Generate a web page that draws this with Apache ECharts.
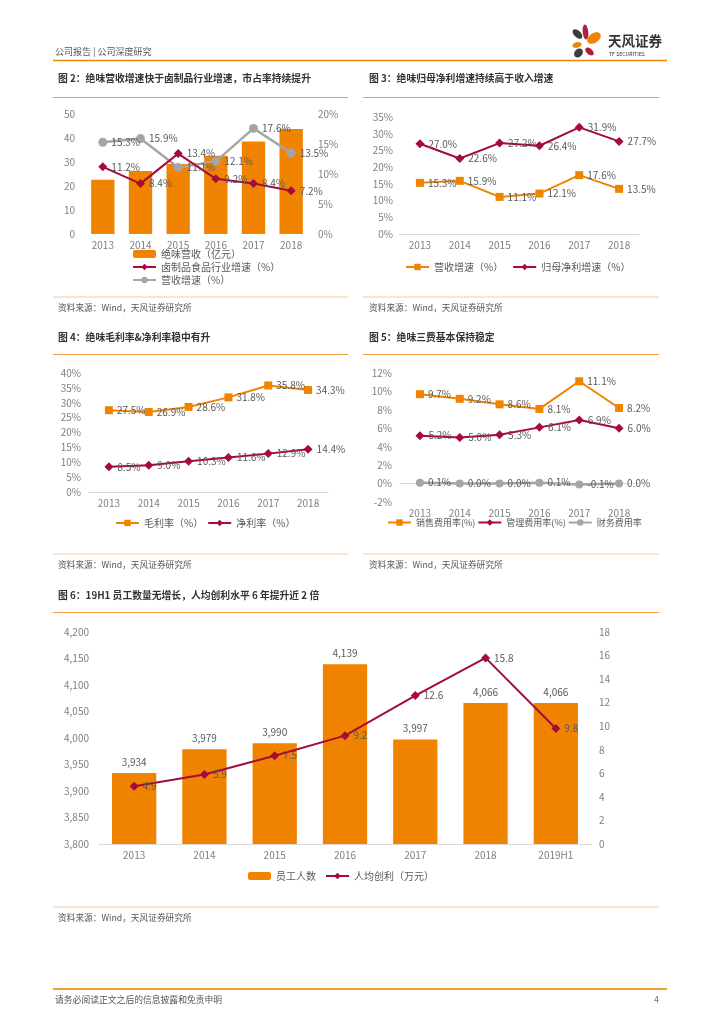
<!DOCTYPE html>
<html><head><meta charset="utf-8">
<script src="https://cdn.jsdelivr.net/npm/echarts@6/dist/echarts.min.js"></script>
<style>html,body{margin:0;padding:0;background:#fff}#c{width:724px;height:1024px}</style>
</head><body><div id="c"></div>
<script>
// ---- data ----
const years = ['2013','2014','2015','2016','2017','2018'];
const years6 = ['2013','2014','2015','2016','2017','2018','2019H1'];
// Fig 2
const revenue = [22.6, 26.3, 29.2, 32.6, 38.5, 43.7];
const industryGrowth = [11.2, 8.4, 13.4, 9.2, 8.4, 7.2];
const revenueGrowth = [15.3, 15.9, 11.1, 12.1, 17.6, 13.5];
// Fig 3
const revGrowth3 = [15.3, 15.9, 11.1, 12.1, 17.6, 13.5];
const netProfitGrowth = [27.0, 22.6, 27.2, 26.4, 31.9, 27.7];
// Fig 4
const grossMargin = [27.5, 26.9, 28.6, 31.8, 35.8, 34.3];
const netMargin = [8.5, 9.0, 10.3, 11.6, 12.9, 14.4];
// Fig 5
const sellingRate = [9.7, 9.2, 8.6, 8.1, 11.1, 8.2];
const adminRate = [5.2, 5.0, 5.3, 6.1, 6.9, 6.0];
const financeRate = [0.1, 0.0, 0.0, 0.1, -0.1, 0.0];
// Fig 6
const staff = [3934, 3979, 3990, 4139, 3997, 4066, 4066];
const profitPerStaff = [4.9, 5.9, 7.5, 9.2, 12.6, 15.8, 9.8];

const ORANGE = '#F08300', RED = '#A50B3B', GRAY = '#A5A5A5';
const FONT = '"Noto Sans CJK SC", "Noto Sans", sans-serif';
const AX = '#7F7F7F', LBL = '#595959';
const pct = v => v + '%';
const pctLabel = p => Number(p.value).toFixed(1) + '%';
const comma = v => String(v).replace(/\B(?=(\d{3})+(?!\d))/g, ',');

function xAx(gi, data, showLine) {
  return { type: 'category', gridIndex: gi, data: data, boundaryGap: true,
    axisLine: { show: showLine, lineStyle: { color: '#D9D9D9', width: 1.2 } },
    axisTick: { show: false },
    axisLabel: { color: AX, fontSize: 10, margin: 6, fontFamily: FONT } };
}
function yAx(gi, min, max, interval, fmt, pos, margin) {
  return { type: 'value', gridIndex: gi, min: min, max: max, interval: interval, position: pos || 'left',
    axisLine: { show: false }, axisTick: { show: false }, splitLine: { show: false },
    axisLabel: { color: AX, fontSize: 10, margin: margin, formatter: fmt, fontFamily: FONT } };
}
function lineS(name, xi, yi, data, color, symbol, size, width, fmt) {
  return { type: 'line', name: name, xAxisIndex: xi, yAxisIndex: yi, data: data,
    symbol: symbol, symbolSize: size,
    lineStyle: { color: color, width: width }, itemStyle: { color: color },
    label: { show: true, position: 'right', distance: 4, color: LBL, fontSize: 10, fontFamily: FONT, formatter: fmt || pctLabel },
    z: 3 };
}
const legendNames = { 'f3营收': '营收增速（%）' };
function legend(left, top, data, gap, orient, fs) {
  return { left: left, top: top, orient: orient || 'horizontal', data: data, itemGap: gap,
    itemWidth: 23, itemHeight: 8, padding: 0,
    textStyle: { color: LBL, fontSize: fs || 10, fontFamily: FONT },
    formatter: n => legendNames[n] || n };
}

// ---- decoration ----
const g = [];
function hl(x1, x2, y, color, w) { g.push({ type: 'line', silent: true, shape: { x1: x1, y1: y, x2: x2, y2: y }, style: { stroke: color, lineWidth: w } }); }
function tx(x, y, text, size, color, weight) { g.push({ type: 'text', silent: true, x: x, y: y, style: { text: text, fontSize: size, fill: color, fontWeight: weight || 'normal', fontFamily: FONT, verticalAlign: 'middle' } }); }
const TL = '#F39A45', SL = '#F8C9A2';
hl(53, 667, 60.5, ORANGE, 1.5);
tx(55, 51.5, '公司报告 | 公司深度研究', 9, '#555');
tx(608, 41, '天风证券', 13.5, '#333', 'bold');
tx(609, 54.5, 'TF SECURITIES', 5.2, '#333');
const petals = [
  { cx: 577.5, cy: 34, rx: 6, ry: 3.3, r: -0.75, c: '#3C3C3C' },
  { cx: 585.5, cy: 32, rx: 2.8, ry: 7.5, r: 0.1, c: '#B01E3C' },
  { cx: 594, cy: 38, rx: 7.5, ry: 4.8, r: 0.6, c: ORANGE },
  { cx: 577, cy: 45, rx: 4.6, ry: 2.8, r: 0.2, c: ORANGE },
  { cx: 589.5, cy: 51.5, rx: 5, ry: 3, r: -0.7, c: '#B01E3C' },
  { cx: 578.5, cy: 53, rx: 5, ry: 3.8, r: 0.8, c: '#3C3C3C' }
];
petals.forEach(p => g.push({ type: 'ellipse', silent: true, x: p.cx, y: p.cy, rotation: p.r, shape: { cx: 0, cy: 0, rx: p.rx, ry: p.ry }, style: { fill: p.c } }));

// panel titles, lines, sources
hl(53, 348, 97.5, TL, 1.2); hl(53, 348, 297, SL, 1.2);
hl(363, 659, 97.5, TL, 1.2); hl(363, 659, 297, SL, 1.2);
hl(53, 348, 354.5, TL, 1.2); hl(53, 348, 554, SL, 1.2);
hl(363, 659, 354.5, TL, 1.2); hl(363, 659, 554, SL, 1.2);
hl(53, 659, 612.5, TL, 1.2); hl(53, 659, 907, SL, 1.2);
hl(53, 667, 989, '#F0A030', 2);
tx(58, 78, '图 2：绝味营收增速快于卤制品行业增速，市占率持续提升', 9.8, '#333', 'bold');
tx(369, 78, '图 3：绝味归母净利增速持续高于收入增速', 9.8, '#333', 'bold');
tx(58, 337, '图 4：绝味毛利率&净利率稳中有升', 9.8, '#333', 'bold');
tx(369, 337, '图 5：绝味三费基本保持稳定', 9.8, '#333', 'bold');
tx(58, 595, '图 6：19H1 员工数量无增长，人均创利水平 6 年提升近 2 倍', 9.8, '#333', 'bold');
const SRC = '资料来源：Wind，天风证券研究所';
tx(58, 308, SRC, 8.7, '#555'); tx(369, 308, SRC, 8.7, '#555');
tx(58, 565, SRC, 8.7, '#555'); tx(369, 565, SRC, 8.7, '#555');
tx(58, 918, SRC, 8.7, '#555');
tx(55, 1000, '请务必阅读正文之后的信息披露和免责申明', 8.8, '#555');
tx(654, 1000, '4', 9, '#777');

const option = {
  backgroundColor: '#fff',
  animation: false,
  textStyle: { fontFamily: FONT },
  graphic: g,
  grid: [
    { left: 84, top: 114, width: 226, height: 120 },
    { left: 400, top: 117, width: 239, height: 117 },
    { left: 89, top: 373, width: 239, height: 119 },
    { left: 400, top: 373, width: 239, height: 129 },
    { left: 99, top: 632, width: 492, height: 212 }
  ],
  xAxis: [ xAx(0, years, false), xAx(1, years, true), xAx(2, years, true), xAx(3, years, true), xAx(4, years6, true) ],
  yAxis: [
    yAx(0, 0, 50, 10, null, 'left', 9),
    yAx(0, 0, 20, 5, pct, 'right', 8),
    yAx(1, 0, 35, 5, pct, 'left', 7),
    yAx(2, 0, 40, 5, pct, 'left', 8),
    yAx(3, -2, 12, 2, pct, 'left', 8),
    yAx(4, 3800, 4200, 50, comma, 'left', 10),
    yAx(4, 0, 18, 2, null, 'right', 8)
  ],
  legend: [
    legend(132, 249, ['绝味营收（亿元）', '卤制品食品行业增速（%）', '营收增速（%）'], 3, 'vertical'),
    legend(405, 262, ['f3营收', '归母净利增速（%）'], 9),
    legend(115, 518, ['毛利率（%）', '净利率（%）'], 4),
    legend(387, 518, ['销售费用率(%)', '管理费用率(%)', '财务费用率'], 2, 'horizontal', 9),
    legend(248, 871, ['员工人数', '人均创利（万元）'], 9)
  ],
  series: [
    { type: 'bar', name: '绝味营收（亿元）', xAxisIndex: 0, yAxisIndex: 0, data: revenue, barWidth: '62%', itemStyle: { color: ORANGE } },
    lineS('营收增速（%）', 0, 1, revenueGrowth, GRAY, 'circle', 9, 2.5),
    lineS('卤制品食品行业增速（%）', 0, 1, industryGrowth, RED, 'diamond', 9, 2),
    lineS('f3营收', 1, 2, revGrowth3, ORANGE, 'rect', 8, 2),
    lineS('归母净利增速（%）', 1, 2, netProfitGrowth, RED, 'diamond', 9, 2),
    lineS('毛利率（%）', 2, 3, grossMargin, ORANGE, 'rect', 8, 2),
    lineS('净利率（%）', 2, 3, netMargin, RED, 'diamond', 9, 2),
    lineS('销售费用率(%)', 3, 4, sellingRate, ORANGE, 'rect', 8, 2),
    lineS('管理费用率(%)', 3, 4, adminRate, RED, 'diamond', 9, 2),
    lineS('财务费用率', 3, 4, financeRate, GRAY, 'circle', 8, 2.5),
    { type: 'bar', name: '员工人数', xAxisIndex: 4, yAxisIndex: 5, data: staff, barWidth: '63%', itemStyle: { color: ORANGE },
      label: { show: true, position: 'top', distance: 6, color: LBL, fontSize: 10, fontFamily: FONT, formatter: p => comma(p.value) } },
    lineS('人均创利（万元）', 4, 6, profitPerStaff, RED, 'diamond', 9, 2, p => Number(p.value).toFixed(1))
  ]
};
const chart = echarts.init(document.getElementById('c'), null, { renderer: 'canvas' });
chart.setOption(option);
</script>
</body></html>
